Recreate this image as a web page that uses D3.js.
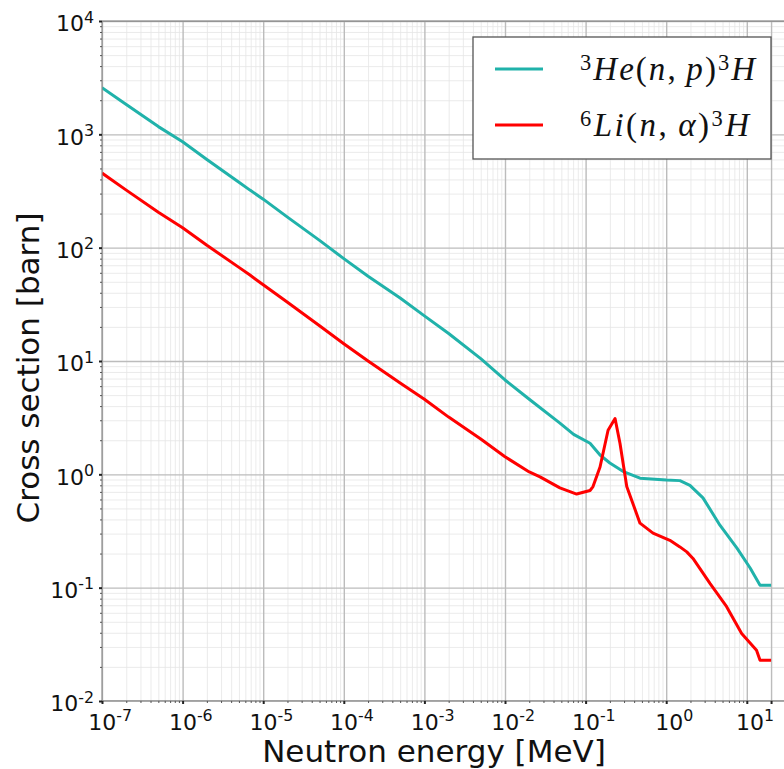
<!DOCTYPE html>
<html><head><meta charset="utf-8">
<script src="https://cdn.jsdelivr.net/npm/d3@7"></script>
<style>body{margin:0;background:#fff;} svg{display:block;}</style>
</head><body>
<script>
// ---- data ----
const he3Energy = [1e-7,2e-7,5e-7,1e-6,2e-6,5e-6,6.85e-6,1e-5,2e-5,5e-5,1e-4,2e-4,5e-4,1e-3,2e-3,5e-3,1e-2,2e-2,4.8e-2,7.1e-2,0.1135,0.151,0.2,0.3,0.473,1.0,1.48,1.97,2.86,4.64,7.55,11.0,14.6,20];
const he3Sigma  = [2580,1830,1170,860,600,378,322,268,186,116,80,56,36,25,17.5,10.5,6.8,4.6,2.83,2.25,1.88,1.48,1.26,1.05,0.925,0.89,0.88,0.80,0.62,0.356,0.223,0.149,0.105,0.105];
const li6Energy = [1e-7,2e-7,5e-7,1e-6,2e-6,5e-6,6.85e-6,1e-5,2e-5,5e-5,1e-4,2e-4,5e-4,1e-3,2e-3,5e-3,1e-2,2e-2,2.72e-2,4.8e-2,7.74e-2,0.1135,0.1236,0.151,0.19,0.232,0.267,0.324,0.473,0.686,1.11,1.48,1.8,2.15,3.49,5.62,8.63,13.2,14.6,20];
const li6Sigma  = [455,322,205,150,105,67,57.3,47,33,20.5,14.2,10,6.4,4.6,3.2,2.05,1.43,1.05,0.95,0.76,0.67,0.72,0.78,1.16,2.45,3.11,1.88,0.78,0.371,0.303,0.262,0.229,0.207,0.181,0.109,0.068,0.0394,0.0281,0.0229,0.0229];
const seriesNames = ["He3","Li6"];
const xMajorTicks = [1e-7,1e-6,1e-5,1e-4,1e-3,1e-2,1e-1,1e0,1e1];
const xMajorExp   = ["-7","-6","-5","-4","-3","-2","-1","0","1"];
const yMajorTicks = [1e-2,1e-1,1e0,1e1,1e2,1e3,1e4];
const yMajorExp   = ["-2","-1","0","1","2","3","4"];
const xExtraTick = [20];
const xLabel = "Neutron energy [MeV]";
const yLabel = "Cross section [barn]";

const W = 784, H = 769;
const L = 102, T = 21, B = 701;
const perDec = 80.6;
const R = L + perDec * Math.log10(30/1e-7);

const svg = d3.select("body").append("svg").attr("width", W).attr("height", H);

const x = d3.scaleLog().domain([1e-7, 30]).range([L, R]);
const y = d3.scaleLog().domain([1e-2, 1e4]).range([B, T]);

svg.append("clipPath").attr("id","clip").append("rect")
  .attr("x", L).attr("y", T).attr("width", R - L).attr("height", B - T);

function minors(lo, hi) {
  const out = [];
  for (let e = lo; e < hi; e++) for (let k = 2; k <= 9; k++) out.push(k * Math.pow(10, e));
  return out;
}
const xMinor = minors(-7, 2).filter(v => v <= 30 && v !== 20);
const yMinor = minors(-2, 4);

const grid = svg.append("g").attr("clip-path","url(#clip)");
grid.append("g").attr("transform", `translate(0,${B})`)
  .call(d3.axisBottom(x).tickValues(xMinor).tickSize(-(B - T)).tickFormat(""))
  .call(g => { g.select(".domain").remove(); g.selectAll("line").attr("stroke","#e6e6e6").attr("stroke-width",0.8); });
grid.append("g").attr("transform", `translate(${L},0)`)
  .call(d3.axisLeft(y).tickValues(yMinor).tickSize(-(R - L)).tickFormat(""))
  .call(g => { g.select(".domain").remove(); g.selectAll("line").attr("stroke","#e6e6e6").attr("stroke-width",0.8); });
grid.append("g").attr("transform", `translate(0,${B})`)
  .call(d3.axisBottom(x).tickValues(xMajorTicks.concat(xExtraTick)).tickSize(-(B - T)).tickFormat(""))
  .call(g => { g.select(".domain").remove(); g.selectAll("line").attr("stroke","#bcbcbc").attr("stroke-width",1.4); });
grid.append("g").attr("transform", `translate(${L},0)`)
  .call(d3.axisLeft(y).tickValues(yMajorTicks).tickSize(-(R - L)).tickFormat(""))
  .call(g => { g.select(".domain").remove(); g.selectAll("line").attr("stroke","#bcbcbc").attr("stroke-width",1.4); });

const line = d3.line().x(d => x(d[0])).y(d => y(d[1]));
const plot = svg.append("g").attr("clip-path","url(#clip)");
plot.append("path").datum(he3Energy.map((e,i)=>[e,he3Sigma[i]]))
  .attr("d", line).attr("fill","none").attr("stroke","#20B2AA").attr("stroke-width",3).attr("stroke-linejoin","round");
plot.append("path").datum(li6Energy.map((e,i)=>[e,li6Sigma[i]]))
  .attr("d", line).attr("fill","none").attr("stroke","#ff0000").attr("stroke-width",3).attr("stroke-linejoin","round");

svg.append("line").attr("x1",L).attr("x2",R).attr("y1",T).attr("y2",T).attr("stroke","#6e6e6e").attr("stroke-width",1.2);
svg.append("line").attr("x1",L).attr("x2",R).attr("y1",B).attr("y2",B).attr("stroke","#555").attr("stroke-width",1.2);
svg.append("line").attr("x1",L).attr("x2",L).attr("y1",T).attr("y2",B).attr("stroke","#8a8a8a").attr("stroke-width",1.2);

function supLabel(sel, exps) {
  sel.selectAll(".tick text").each(function(d, i) {
    const t = d3.select(this);
    t.text(null);
    t.append("tspan").text("10");
    t.append("tspan").attr("dy", "-0.55em").attr("font-size", "0.72em").text(exps[i]);
  });
}
const xAxis = svg.append("g").attr("transform", `translate(0,${B})`)
  .call(d3.axisBottom(x).tickValues(xMajorTicks).tickSize(3).tickPadding(5).tickFormat(()=>"x"));
xAxis.select(".domain").remove();
xAxis.selectAll(".tick line").attr("stroke","#222").attr("stroke-width",2);
xAxis.selectAll(".tick text").attr("font-family","DejaVu Sans").attr("font-size",22).attr("fill","#111").attr("dy","0.95em");
supLabel(xAxis, xMajorExp);
xAxis.selectAll(".tick text").attr("text-anchor","middle").attr("dx","0.35em");

const xAxis2 = svg.append("g").attr("transform", `translate(0,${B})`)
  .call(d3.axisBottom(x).tickValues(xExtraTick).tickSize(3).tickFormat(""));
xAxis2.select(".domain").remove();
xAxis2.selectAll(".tick line").attr("stroke","#222").attr("stroke-width",2);

const xMinorAxis = svg.append("g").attr("transform", `translate(0,${B})`)
  .call(d3.axisBottom(x).tickValues(xMinor).tickSize(2).tickFormat(""));
xMinorAxis.select(".domain").remove();
xMinorAxis.selectAll(".tick line").attr("stroke","#555").attr("stroke-width",1);

const yAxis = svg.append("g").attr("transform", `translate(${L},0)`)
  .call(d3.axisLeft(y).tickValues(yMajorTicks).tickSize(3).tickPadding(5).tickFormat(()=>"x"));
yAxis.select(".domain").remove();
yAxis.selectAll(".tick line").attr("stroke","#222").attr("stroke-width",2);
yAxis.selectAll(".tick text").attr("font-family","DejaVu Sans").attr("font-size",22).attr("fill","#111").attr("dy","0.45em");
supLabel(yAxis, yMajorExp);

const yMinorAxis = svg.append("g").attr("transform", `translate(${L},0)`)
  .call(d3.axisLeft(y).tickValues(yMinor).tickSize(2).tickFormat(""));
yMinorAxis.select(".domain").remove();
yMinorAxis.selectAll(".tick line").attr("stroke","#555").attr("stroke-width",1);

svg.append("text").attr("x", 434).attr("y", 762).attr("text-anchor","middle")
  .attr("font-family","DejaVu Sans").attr("font-size",31).attr("fill","#111").text(xLabel);
svg.append("text").attr("transform","translate(39,368) rotate(-90)").attr("text-anchor","middle")
  .attr("font-family","DejaVu Sans").attr("font-size",31).attr("fill","#111").text(yLabel);

// legend
const lg = svg.append("g");
lg.append("rect").attr("x",473).attr("y",37).attr("width",298).attr("height",122)
  .attr("fill","#fff").attr("stroke","#555").attr("stroke-width",1.3);
const legendItems = [
  {color:"#20B2AA", parts:[["3","sup"],["He","i"],["(","n"],["n","i"],[",\u2009","n"],["p","i"],[")","n"],["3","sup"],["H","i"]]},
  {color:"#ff0000", parts:[["6","sup"],["Li","i"],["(","n"],["n","i"],[",\u2009","n"],["\u03B1","i"],[")","n"],["3","sup"],["H","i"]]}
];
const rowY = [69, 125];
const textLeft = 580;
const textRight = [755, 749];
legendItems.forEach((it, k) => {
  lg.append("line").attr("x1",495).attr("x2",543).attr("y1",rowY[k]).attr("y2",rowY[k])
    .attr("stroke",it.color).attr("stroke-width",3);
  const t = lg.append("text").attr("x",textLeft).attr("y",rowY[k]+11)
    .attr("font-family","Liberation Serif").attr("font-size",33).attr("fill","#111");
  it.parts.forEach(([s, kind], j) => {
    const ts = t.append("tspan").text(s);
    if (kind === "i") ts.attr("font-style","italic");
    if (kind === "sup") {
      ts.attr("font-size","0.68em").attr("dy","-0.45em");
    } else if (j > 0 && it.parts[j-1][1] === "sup") {
      ts.attr("dy","0.306em");
    }
  });
  const len = t.node().getComputedTextLength();
  const nChars = it.parts.reduce((a,p)=>a+p[0].length,0);
  const ls = Math.max(0, (textRight[k] - textLeft - len) / (nChars - 1));
  t.attr("letter-spacing", ls.toFixed(2));
});
</script>
</body></html>
